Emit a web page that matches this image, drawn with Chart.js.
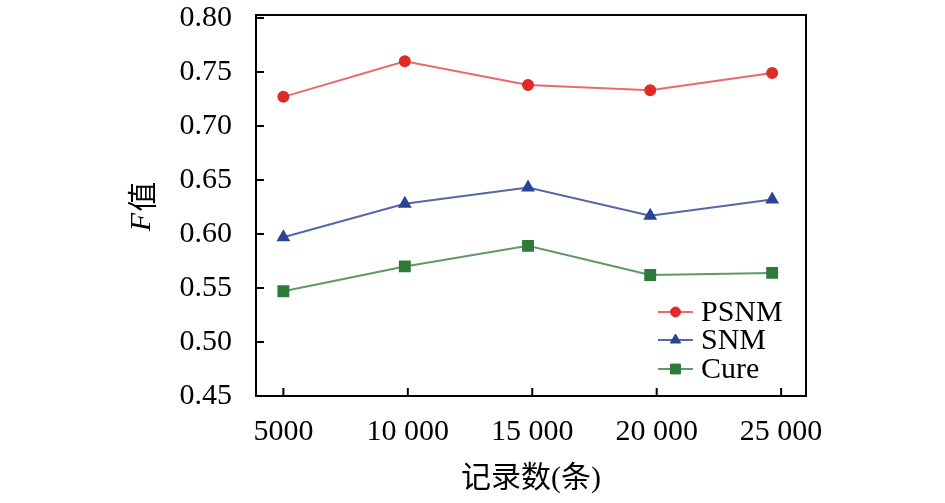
<!DOCTYPE html>
<html>
<head>
<meta charset="utf-8">
<script src="https://cdn.jsdelivr.net/npm/chart.js@4"></script>
<style>
html,body{margin:0;padding:0;background:#fff;}
#wrap{width:945px;height:503px;position:relative;}
</style>
</head>
<body>
<div id="wrap"><canvas id="c" width="945" height="503"></canvas></div>
<script>
const xValues = [5000, 9880, 14830, 19740, 24640];
const xTickValues = [5000, 10000, 15000, 20000, 25000];
const xTickLabels = ['5000', '10 000', '15 000', '20 000', '25 000'];
const yTickValues = [0.45, 0.50, 0.55, 0.60, 0.65, 0.70, 0.75, 0.80];
const seriesNames = ['PSNM', 'SNM', 'Cure'];
const psnm = [0.727, 0.760, 0.738, 0.733, 0.749];
const snm = [0.597, 0.628, 0.643, 0.617, 0.632];
const cure = [0.547, 0.570, 0.589, 0.562, 0.564];
const xTitle = '记录数(条)';
const yTitleItalic = 'F';
const yTitleRest = '值';

const FONT = "'Liberation Serif', 'Noto Sans CJK SC', serif";

function pts(arr){ return arr.map((v,i)=>({x:xValues[i], y:v})); }

const frame = {
  id: 'frame',
  afterDraw(chart){
    const ctx = chart.ctx, a = chart.chartArea;
    const xs = chart.scales.x, ys = chart.scales.y;
    ctx.save();
    ctx.strokeStyle = '#000';
    ctx.lineWidth = 2;
    ctx.strokeRect(a.left, a.top - 3, a.right - a.left, a.bottom - a.top + 3);
    ctx.beginPath();
    xs.ticks.forEach(t => {
      const px = xs.getPixelForValue(t.value);
      ctx.moveTo(px, a.bottom); ctx.lineTo(px, a.bottom - 8);
    });
    ys.ticks.forEach(t => {
      const py = ys.getPixelForValue(t.value);
      ctx.moveTo(a.left, py); ctx.lineTo(a.left + 8, py);
    });
    ctx.stroke();

    // y title
    ctx.fillStyle = '#000';
    ctx.textBaseline = 'middle';
    ctx.translate(142, (a.top + a.bottom) / 2);
    ctx.rotate(-Math.PI / 2);
    ctx.font = "italic 30px 'Liberation Serif'";
    const w1 = ctx.measureText(yTitleItalic).width;
    ctx.font = "30px 'Noto Sans CJK SC'";
    const w2 = ctx.measureText(yTitleRest).width;
    const start = -(w1 + w2) / 2;
    ctx.font = "italic 30px 'Liberation Serif'";
    ctx.textAlign = 'left';
    ctx.fillText(yTitleItalic, start, 0);
    ctx.font = "30px 'Noto Sans CJK SC'";
    ctx.fillText(yTitleRest, start + w1 + 1, 0);
    ctx.restore();

    // x title
    ctx.save();
    ctx.fillStyle = '#000';
    ctx.font = "30px " + FONT;
    ctx.textAlign = 'center';
    ctx.textBaseline = 'middle';
    ctx.fillText(xTitle, (a.left + a.right) / 2, 479);
    ctx.restore();

    // legend
    ctx.save();
    const rows = [312, 340, 369];
    chart.data.datasets.forEach((ds, i) => {
      const y = rows[i];
      ctx.strokeStyle = ds.borderColor;
      ctx.lineWidth = 2;
      ctx.beginPath(); ctx.moveTo(658, y); ctx.lineTo(693, y); ctx.stroke();
      ctx.fillStyle = ds.pointBackgroundColor;
      ctx.strokeStyle = ds.pointBorderColor;
      ctx.lineWidth = 1;
      Chart.helpers.drawPoint(ctx, {
        pointStyle: ds.pointStyle, radius: ds.pointRadius, rotation: 0, borderWidth: 1
      }, 675.5, y);
      ctx.fillStyle = '#000';
      ctx.font = "30px " + FONT;
      ctx.textAlign = 'left';
      ctx.textBaseline = 'middle';
      ctx.fillText(ds.label, 701, y + 1);
    });
    ctx.restore();
  }
};

new Chart(document.getElementById('c'), {
  type: 'line',
  data: {
    datasets: [
      { label: seriesNames[0], data: pts(psnm), borderColor: '#e86a6a', borderWidth: 2,
        pointStyle: 'circle', pointRadius: 5, pointBackgroundColor: '#e02a2a', pointBorderColor: '#e02a2a' },
      { label: seriesNames[1], data: pts(snm), borderColor: '#5566aa', borderWidth: 2,
        pointStyle: 'triangle', pointRadius: 6, pointBackgroundColor: '#2a4596', pointBorderColor: '#2a4596' },
      { label: seriesNames[2], data: pts(cure), borderColor: '#5f9a66', borderWidth: 2,
        pointStyle: 'rect', pointRadius: 7, pointBackgroundColor: '#2f7a3a', pointBorderColor: '#2f7a3a' }
    ]
  },
  options: {
    responsive: false,
    animation: false,
    layout: { padding: { left: 0, right: 139, top: 18, bottom: 0 } },
    plugins: { legend: { display: false }, tooltip: { enabled: false } },
    elements: { line: { tension: 0 } },
    scales: {
      x: {
        type: 'linear', min: 3900, max: 26000,
        afterBuildTicks(s){ s.ticks = xTickValues.map(v => ({ value: v })); },
        afterFit(s){ s.height = 107; s.paddingLeft = 0; s.paddingRight = 0; },
        grid: { display: false, drawTicks: false },
        border: { display: false },
        ticks: { padding: 18, color: '#000', font: { family: FONT, size: 30 },
          maxRotation: 0, autoSkip: false,
          callback(v, i){ return xTickLabels[i]; } }
      },
      y: {
        min: 0.45, max: 0.80,
        afterBuildTicks(s){ s.ticks = yTickValues.map(v => ({ value: v })); },
        afterFit(s){ s.width = 256; s.paddingTop = 0; s.paddingBottom = 0; },
        grid: { display: false, drawTicks: false },
        border: { display: false },
        ticks: { padding: 24, color: '#000', font: { family: FONT, size: 30 },
          callback(v){ return v.toFixed(2); } }
      }
    }
  },
  plugins: [frame]
});
</script>
</body>
</html>
